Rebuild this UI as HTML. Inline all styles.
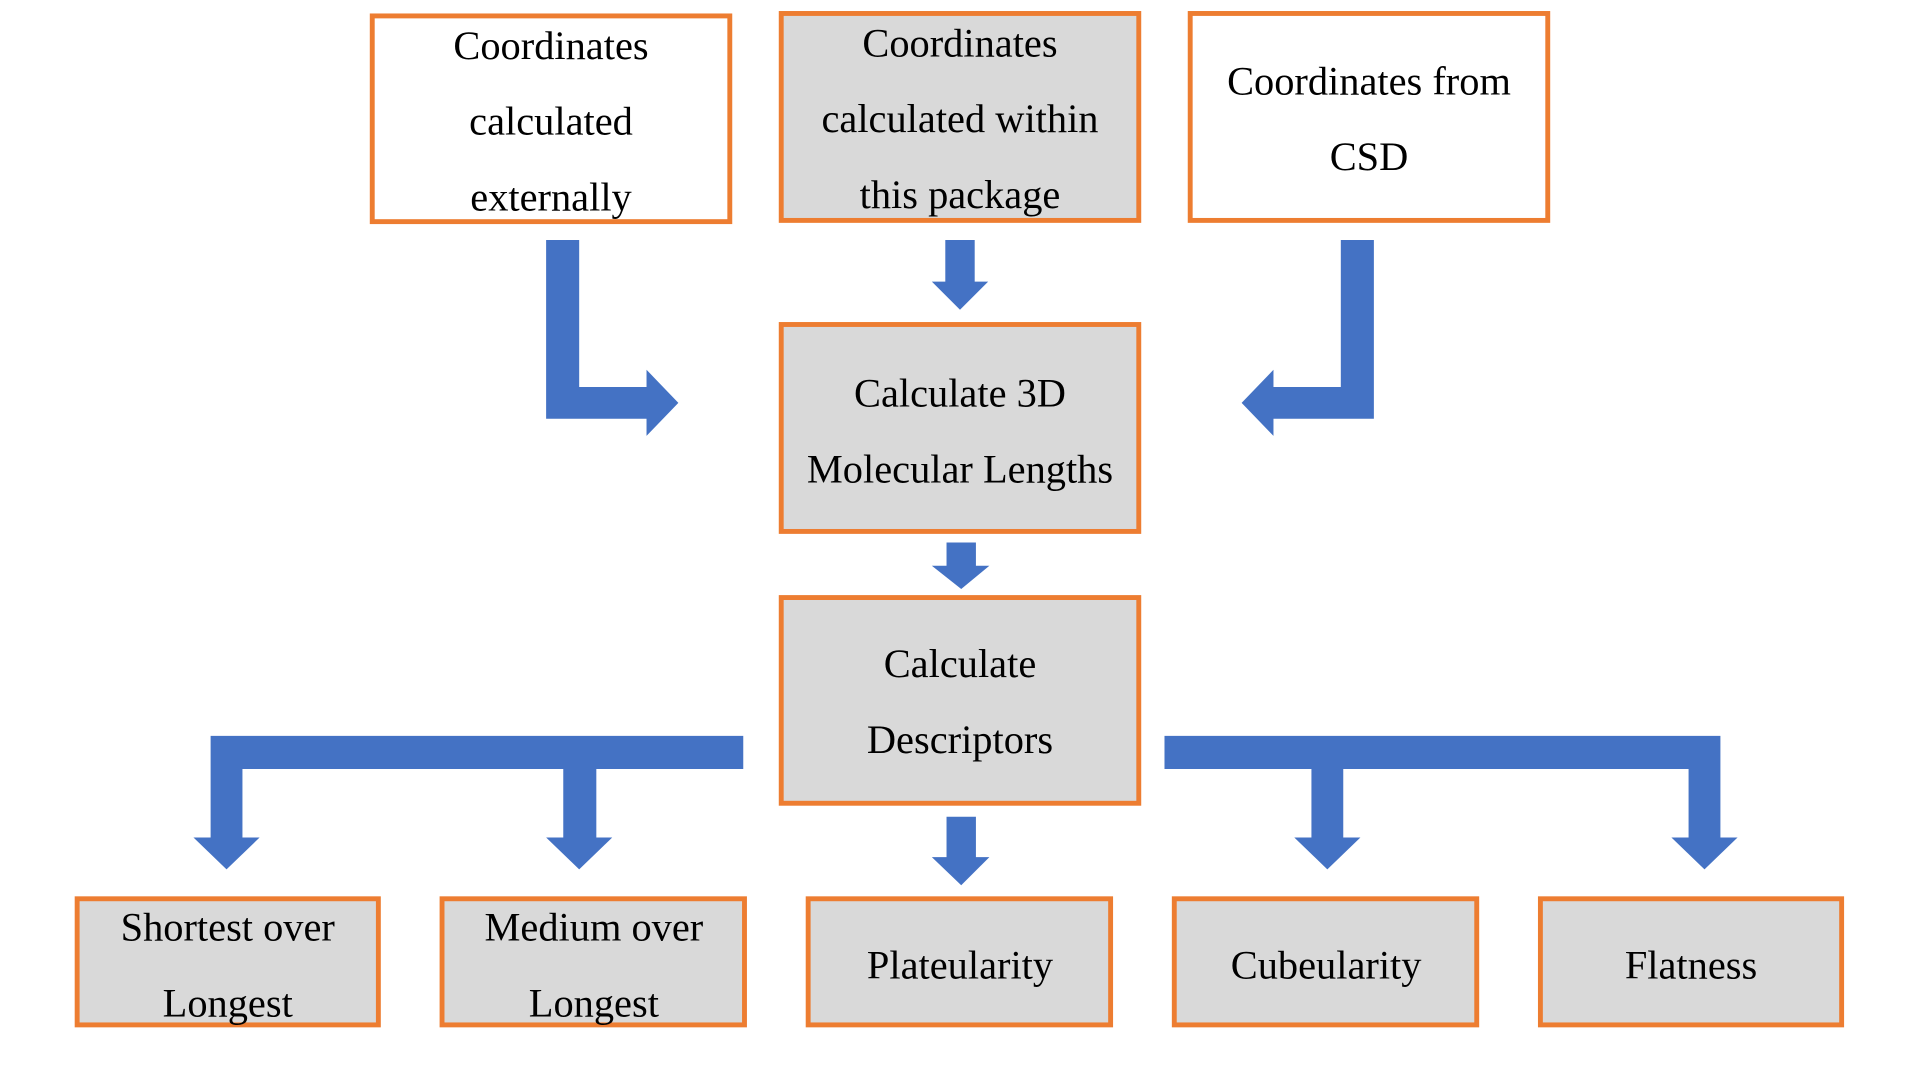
<!DOCTYPE html>
<html><head><meta charset="utf-8"><style>html,body{margin:0;padding:0;background:#fff;overflow:hidden}svg{display:block}text{font-family:"Liberation Serif","Times New Roman",Times,serif}</style></head>
<body>
<svg width="1920" height="1080" viewBox="0 0 1568 882" preserveAspectRatio="none" xmlns="http://www.w3.org/2000/svg">
<g fill="#fff" stroke="#ED7D31" stroke-width="4">
<rect x="304" y="13" width="292" height="168"/>
<rect x="638" y="11" width="292" height="169" fill="#D9D9D9"/>
<rect x="972" y="11" width="292" height="169"/>
<rect x="638" y="265" width="292" height="169" fill="#D9D9D9"/>
<rect x="638" y="488" width="292" height="168" fill="#D9D9D9"/>
<rect x="63" y="734" width="246" height="103" fill="#D9D9D9"/>
<rect x="361" y="734" width="247" height="103" fill="#D9D9D9"/>
<rect x="660" y="734" width="247" height="103" fill="#D9D9D9"/>
<rect x="959" y="734" width="247" height="103" fill="#D9D9D9"/>
<rect x="1258" y="734" width="246" height="103" fill="#D9D9D9"/>
</g>
<g fill="#4472C4">
<polygon points="446,196 473,196 473,316 528,316 528,302 554,329 528,356 528,342 446,342"/>
<polygon points="772,196 796,196 796,230 807,230 784,253 761,230 772,230"/>
<polygon points="1095,196 1122,196 1122,342 1040,342 1040,356 1014,329 1040,302 1040,316 1095,316"/>
<polygon points="773,443 797,443 797,462 808,462 785,481 761,462 773,462"/>
<polygon points="773,667 797,667 797,700 808,700 785,723 761,700 773,700"/>
<polygon points="172,601 607,601 607,628 487,628 487,684 500,684 473,710 446,684 460,684 460,628 198,628 198,684 212,684 185,710 158,684 172,684"/>
<polygon points="951,601 1405,601 1405,684 1419,684 1392,710 1365,684 1379,684 1379,628 1097,628 1097,684 1111,684 1084,710 1057,684 1071,684 1071,628 951,628"/>
</g>
<g font-size="33" fill="#000" text-anchor="middle">
<text x="450" y="48">Coordinates</text>
<text x="450" y="110">calculated</text>
<text x="450" y="172">externally</text>
<text x="784" y="46">Coordinates</text>
<text x="784" y="108">calculated within</text>
<text x="784" y="170">this package</text>
<text x="1118" y="77">Coordinates from</text>
<text x="1118" y="139">CSD</text>
<text x="784" y="332">Calculate 3D</text>
<text x="784" y="394">Molecular Lengths</text>
<text x="784" y="553">Calculate</text>
<text x="784" y="615">Descriptors</text>
<text x="186" y="768">Shortest over</text>
<text x="186" y="830">Longest</text>
<text x="485" y="768">Medium over</text>
<text x="485" y="830">Longest</text>
<text x="784" y="799">Plateularity</text>
<text x="1083" y="799">Cubeularity</text>
<text x="1381" y="799">Flatness</text>
</g>
</svg>
</body></html>
